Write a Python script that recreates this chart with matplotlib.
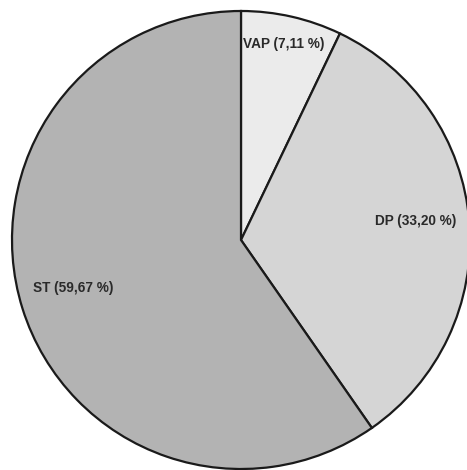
import matplotlib
matplotlib.use("Agg")
import matplotlib.pyplot as plt

categories = ["VAP", "DP", "ST"]
shares = [7.11, 33.20, 59.67]
colors = ["#ebebeb", "#d5d5d5", "#b3b3b3"]
label_pos = [(0.188, 0.856), (0.764, 0.083), (-0.734, -0.210)]

fig = plt.figure(figsize=(4.67, 4.70), dpi=100)
ax = fig.add_axes([12 / 467, 1 / 470, 458 / 467, 458 / 470])
ax.pie(shares, colors=colors, startangle=90, counterclock=False, radius=1.0,
       wedgeprops=dict(edgecolor="#1a1a1a", linewidth=1.6))
ax.set_aspect("auto")
ax.set_xlim(-1.0, 1.0)
ax.set_ylim(-1.0, 1.0)
ax.axis("off")

for name, val, (x, y) in zip(categories, shares, label_pos):
    txt = f"{name} ({val:.2f} %)".replace(".", ",")
    ax.text(x, y, txt, ha="center", va="center", fontsize=9.8,
            fontweight="bold", family="Liberation Sans", color="#2a2a2a")

fig.savefig("out.png", dpi=100)
